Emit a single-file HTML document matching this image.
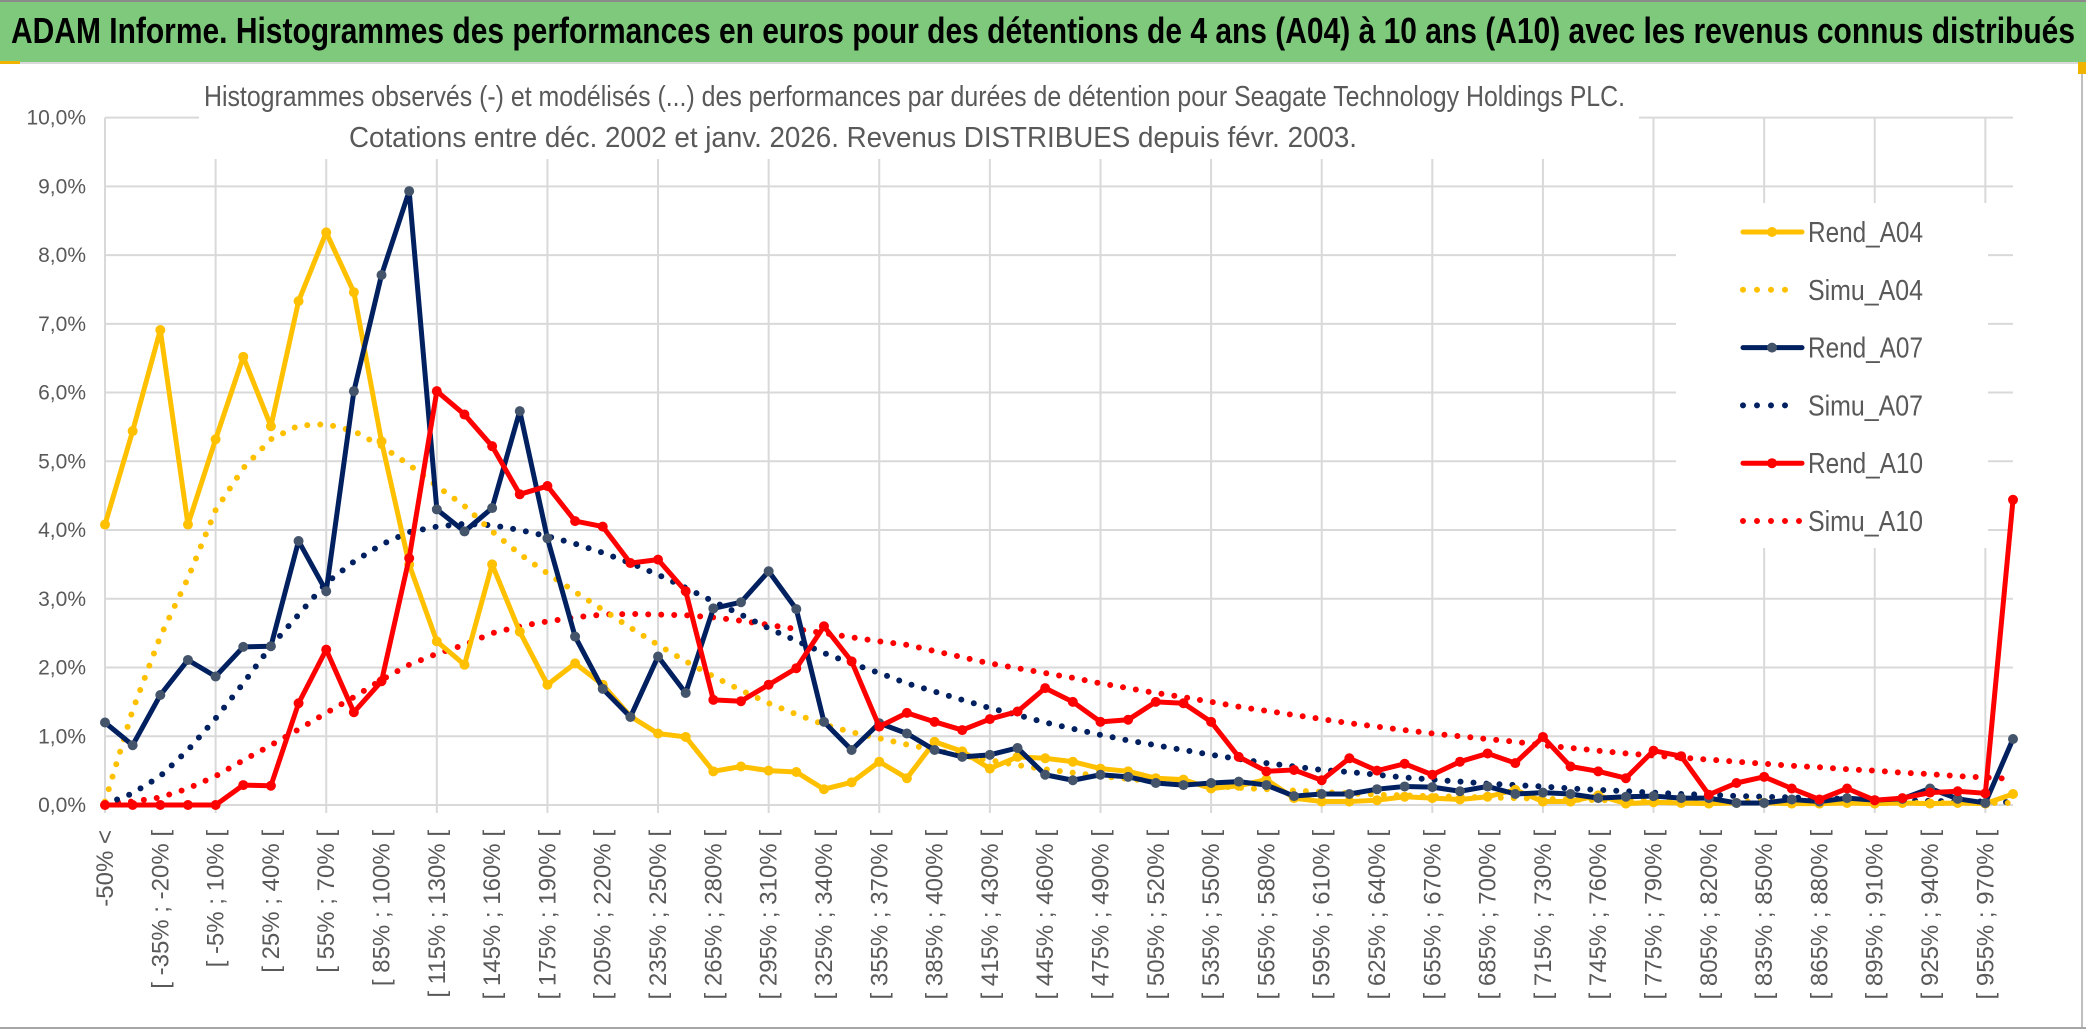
<!DOCTYPE html>
<html lang="fr">
<head>
<meta charset="utf-8">
<title>ADAM Informe - Seagate Technology</title>
<style>
  html,body{margin:0;padding:0;background:#fff;}
  body{width:2086px;height:1031px;overflow:hidden;}
  svg{display:block;}
  text{font-family:"Liberation Sans Narrow","Liberation Sans",sans-serif;}
</style>
</head>
<body>
<svg id="chart" width="2086" height="1031" viewBox="0 0 2086 1031" xmlns="http://www.w3.org/2000/svg">
  <rect x="0" y="0" width="2086" height="1031" fill="#ffffff"/>
  <rect x="0" y="0" width="2086" height="62" fill="#7fc97d"/>
  <line x1="0" y1="1" x2="2086" y2="1" stroke="#8a8a8a" stroke-width="2"/>
  <line x1="0" y1="63" x2="2086" y2="63" stroke="#d9d9d9" stroke-width="2"/>
  <rect x="0" y="61" width="20" height="3" fill="#f0b400"/>
  <text x="11" y="43" font-size="36" font-weight="bold" fill="#000" textLength="2064" lengthAdjust="spacingAndGlyphs">ADAM Informe. Histogrammes des performances en euros pour des détentions de 4 ans (A04) à 10 ans (A10) avec les revenus connus distribués</text>
  <line x1="2082" y1="64" x2="2082" y2="1028" stroke="#bfbfbf" stroke-width="2"/>
  <rect x="2078" y="62" width="8" height="12" fill="#f0b400"/>
  <line x1="0" y1="1028" x2="2086" y2="1028" stroke="#a6a6a6" stroke-width="2"/>
  <g id="grid"></g>
  <rect x="199" y="70" width="1440" height="89" fill="#ffffff"/>
  <text x="204" y="106" font-size="29" fill="#595959" textLength="1421" lengthAdjust="spacingAndGlyphs">Histogrammes observés (-) et modélisés (...) des performances par durées de détention pour Seagate Technology Holdings PLC.</text>
  <text x="349" y="147" font-size="29" fill="#595959" textLength="1008" lengthAdjust="spacingAndGlyphs">Cotations entre déc. 2002 et janv. 2026. Revenus DISTRIBUES depuis févr. 2003.</text>
  <g id="yaxis"></g>
  <g id="xaxis"></g>
  <g id="series"></g>
  <g id="legend"></g>
</svg>
<script>
// ---- chart data ----
const yTickLabels = ["0,0%","1,0%","2,0%","3,0%","4,0%","5,0%","6,0%","7,0%","8,0%","9,0%","10,0%"];
const yTickValues = [0,1,2,3,4,5,6,7,8,9,10];
const binStarts = [-50,-35,-20,-5,10,25,40,55,70,85,100,115,130,145,160,175,190,205,220,235,250,265,280,295,310,325,340,355,370,385,400,415,430,445,460,475,490,505,520,535,550,565,580,595,610,625,640,655,670,685,700,715,730,745,760,775,790,805,820,835,850,865,880,895,910,925,940,955,970];
const rendA04 = [4.08,5.44,6.91,4.08,5.32,6.52,5.51,7.33,8.33,7.46,5.29,3.50,2.38,2.04,3.50,2.52,1.75,2.06,1.75,1.29,1.04,0.99,0.49,0.56,0.50,0.48,0.23,0.33,0.63,0.39,0.92,0.78,0.53,0.70,0.68,0.63,0.53,0.49,0.39,0.37,0.24,0.28,0.37,0.10,0.05,0.05,0.07,0.12,0.10,0.08,0.12,0.22,0.05,0.05,0.14,0.02,0.04,0.03,0.02,0.03,0.03,0.02,0.02,0.03,0.02,0.03,0.02,0.03,0.02,0.16];
const simuA04 = [0.05,1.38,2.45,3.30,4.29,4.90,5.32,5.52,5.54,5.44,5.22,4.95,4.64,4.35,3.98,3.65,3.37,3.10,2.84,2.58,2.33,2.09,1.87,1.67,1.48,1.32,1.17,1.06,0.97,0.88,0.80,0.72,0.65,0.58,0.52,0.47,0.42,0.38,0.34,0.31,0.28,0.25,0.23,0.21,0.19,0.17,0.15,0.14,0.13,0.12,0.11,0.10,0.09,0.08,0.07,0.07,0.06,0.06,0.05,0.05,0.05,0.04,0.04,0.04,0.04,0.03,0.03,0.03,0.03,0.03];
const rendA07 = [1.20,0.87,1.60,2.11,1.87,2.30,2.31,3.84,3.11,6.02,7.71,8.93,4.30,3.98,4.32,5.73,3.88,2.45,1.69,1.28,2.16,1.63,2.86,2.95,3.40,2.85,1.21,0.80,1.19,1.04,0.80,0.70,0.73,0.83,0.44,0.36,0.44,0.41,0.32,0.29,0.32,0.34,0.29,0.13,0.16,0.16,0.23,0.27,0.26,0.20,0.27,0.16,0.18,0.16,0.10,0.12,0.13,0.10,0.10,0.03,0.03,0.08,0.05,0.10,0.07,0.09,0.24,0.09,0.03,0.96];
const simuA07 = [0.01,0.17,0.42,0.80,1.26,1.77,2.31,2.77,3.23,3.54,3.79,3.97,4.05,4.09,4.07,4.00,3.91,3.80,3.67,3.52,3.35,3.16,2.96,2.77,2.57,2.39,2.21,2.06,1.92,1.77,1.65,1.53,1.41,1.31,1.20,1.11,1.02,0.94,0.87,0.80,0.73,0.67,0.61,0.56,0.51,0.48,0.44,0.40,0.37,0.34,0.31,0.29,0.27,0.24,0.22,0.20,0.18,0.16,0.15,0.13,0.12,0.11,0.10,0.09,0.08,0.07,0.06,0.05,0.05,0.04];
const rendA10 = [0,0,0,0,0,0.29,0.28,1.48,2.26,1.35,1.80,3.59,6.02,5.68,5.22,4.52,4.64,4.13,4.05,3.52,3.57,3.11,1.53,1.51,1.75,1.99,2.60,2.09,1.14,1.34,1.21,1.09,1.25,1.36,1.70,1.50,1.21,1.24,1.50,1.48,1.21,0.70,0.49,0.51,0.36,0.68,0.50,0.60,0.44,0.63,0.75,0.61,0.99,0.56,0.49,0.39,0.79,0.71,0.15,0.32,0.41,0.24,0.08,0.24,0.07,0.10,0.18,0.20,0.17,4.44];
const simuA10 = [0.03,0.05,0.11,0.24,0.42,0.65,0.87,1.10,1.34,1.57,1.82,2.04,2.20,2.33,2.50,2.60,2.67,2.73,2.77,2.78,2.77,2.76,2.73,2.68,2.62,2.56,2.50,2.44,2.38,2.33,2.24,2.15,2.06,1.99,1.92,1.85,1.77,1.70,1.63,1.57,1.50,1.43,1.37,1.31,1.25,1.19,1.14,1.09,1.04,1.00,0.96,0.92,0.87,0.83,0.79,0.75,0.72,0.69,0.66,0.63,0.60,0.57,0.55,0.52,0.50,0.47,0.45,0.42,0.40,0.38];
const seriesNames = ["Rend_A04","Simu_A04","Rend_A07","Simu_A07","Rend_A10","Simu_A10"];

// ---- category labels ----
const categories = ["-50% <"];
for (let k = 0; k < binStarts.length - 1; k++) {
  categories.push("[ " + binStarts[k] + "% ; " + binStarts[k+1] + "% [");
}
categories.push("> 970%");

// ---- geometry ----
const NS = "http://www.w3.org/2000/svg";
const plotLeft = 105, plotRight = 2013, plotTop = 117.6, plotBottom = 805;
const yMax = 10;
function xScale(i){ return plotLeft + i * (plotRight - plotLeft) / (categories.length - 1); }
function yScale(v){ return plotBottom - v / yMax * (plotBottom - plotTop); }
function mk(tag, attrs, parent){
  const el = document.createElementNS(NS, tag);
  for (const k in attrs) el.setAttribute(k, attrs[k]);
  parent.appendChild(el);
  return el;
}

// grid
const grid = document.getElementById("grid");
yTickValues.forEach(function(v){
  const y = yScale(v);
  const ln = mk("line", {x1: plotLeft, y1: y, x2: plotRight, y2: y, stroke: "#d9d9d9", "stroke-width": 2}, grid);
  
  
});
for (let i = 0; i < categories.length; i += 4) {
  const x = xScale(i);
  const ln = mk("line", {x1: x, y1: plotTop, x2: x, y2: plotBottom + 8, stroke: "#d9d9d9", "stroke-width": 2}, grid);
  
  
}

// y axis labels
const yaxis = document.getElementById("yaxis");
yTickValues.forEach(function(v, k){
  const t = mk("text", {x: 86, y: yScale(v) + 7, "font-size": 21, fill: "#595959", "text-anchor": "end"}, yaxis);
  t.textContent = yTickLabels[k];
  
  
});

// x axis labels (every other category)
const xaxis = document.getElementById("xaxis");
for (let i = 0; i < categories.length - 1; i += 2) {
  const x = xScale(i) + 8;
  const t = mk("text", {x: 0, y: 0, "font-size": 24, fill: "#595959", "text-anchor": "end",
    transform: "translate(" + x + ",830) rotate(-90)"}, xaxis);
  t.textContent = categories[i];
  
  
}

// series
const seriesLayer = document.getElementById("series");
function pointsOf(arr){ return arr.map(function(v, i){ return xScale(i).toFixed(2) + "," + yScale(v).toFixed(2); }).join(" "); }
function drawDotted(arr, color, name){
  const p = mk("polyline", {points: pointsOf(arr), fill: "none", stroke: color, "stroke-width": 6,
    "stroke-linecap": "round", "stroke-linejoin": "round", "stroke-dasharray": "0 13"}, seriesLayer);
  
  
}
function drawSolid(arr, color, markerColor, name){
  const g = mk("g", {}, seriesLayer);
  
  
  const p = mk("polyline", {points: pointsOf(arr), fill: "none", stroke: color, "stroke-width": 5,
    "stroke-linejoin": "round", "stroke-linecap": "round"}, g);
  
  
  arr.forEach(function(v, i){
    const c = mk("circle", {cx: xScale(i), cy: yScale(v), r: 5, fill: markerColor}, g);
    
    
  });
}
drawDotted(simuA10, "#ff0000", "simu-a10-line");
drawDotted(simuA07, "#002060", "simu-a07-line");
drawDotted(simuA04, "#ffc000", "simu-a04-line");
drawSolid(rendA04, "#ffc000", "#ffc000", "rend-a04");
drawSolid(rendA07, "#002060", "#44546a", "rend-a07");
drawSolid(rendA10, "#ff0000", "#ff0000", "rend-a10");

// legend
const legend = document.getElementById("legend");
const lgBg = mk("rect", {x: 1676, y: 203, width: 312, height: 345, fill: "#ffffff"}, legend);


const legendColors = ["#ffc000","#ffc000","#002060","#002060","#ff0000","#ff0000"];
const legendMarkers = ["#ffc000",null,"#44546a",null,"#ff0000",null];
seriesNames.forEach(function(nm, k){
  const y = 232 + k * 57.8;
  const g = mk("g", {}, legend);
  
  
  if (legendMarkers[k]) {
    const l = mk("line", {x1: 1743, y1: y, x2: 1802, y2: y, stroke: legendColors[k], "stroke-width": 5, "stroke-linecap": "round"}, g);
    
    
    const c = mk("circle", {cx: 1772, cy: y, r: 5, fill: legendMarkers[k]}, g);
    
    
  } else {
    const l = mk("line", {x1: 1743, y1: y, x2: k === 5 ? 1802 : 1790, y2: y, stroke: legendColors[k], "stroke-width": 6,
      "stroke-linecap": "round", "stroke-dasharray": "0 14"}, g);
    
    
  }
  const t = mk("text", {x: 1808, y: y + 10, "font-size": 29, fill: "#595959", textLength: 115, lengthAdjust: "spacingAndGlyphs"}, g);
  t.textContent = nm;
  
  
});
</script>
</body>
</html>
